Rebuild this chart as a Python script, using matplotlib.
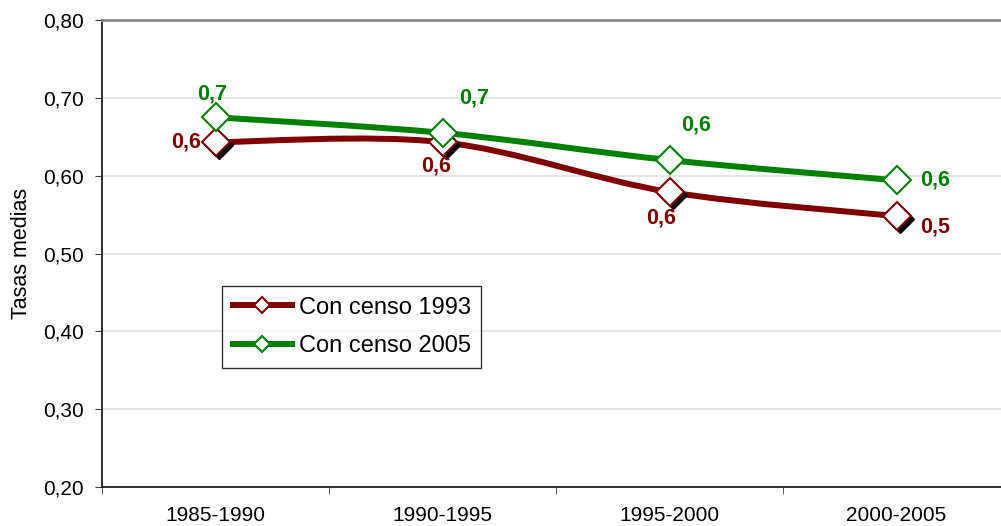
import matplotlib
matplotlib.use("Agg")
import matplotlib.pyplot as plt
from matplotlib.path import Path
from matplotlib.patches import PathPatch
from matplotlib.lines import Line2D
from matplotlib.transforms import offset_copy

plt.rcParams['font.family'] = ['Liberation Sans', 'DejaVu Sans']

periodos = ['1985-1990', '1990-1995', '1995-2000', '2000-2005']
censo_1993 = [0.643, 0.643, 0.579, 0.548]
censo_2005 = [0.675, 0.655, 0.620, 0.594]

rojo = '#800000'
verde = '#008000'


def curva(ax, ys, color):
    # smoothed line like excel (catmull-rom as bezier)
    xs = list(range(len(ys)))
    pts = list(zip(xs, ys))
    verts = [pts[0]]
    codes = [Path.MOVETO]
    n = len(pts)
    for i in range(n - 1):
        p0 = pts[max(i - 1, 0)]
        p1 = pts[i]
        p2 = pts[i + 1]
        p3 = pts[min(i + 2, n - 1)]
        c1 = (p1[0] + (p2[0] - p0[0]) / 6, p1[1] + (p2[1] - p0[1]) / 6)
        c2 = (p2[0] - (p3[0] - p1[0]) / 6, p2[1] - (p3[1] - p1[1]) / 6)
        verts += [c1, c2, p2]
        codes += [Path.CURVE4] * 3
    ax.add_patch(PathPatch(Path(verts, codes), fill=False, edgecolor=color,
                           lw=4.3, capstyle='round', joinstyle='round', zorder=3))


fig = plt.figure(figsize=(10.01, 5.26), dpi=100)
ax = fig.add_axes([102 / 1001, 39 / 526, 908 / 1001, 467 / 526])

x = list(range(len(periodos)))
curva(ax, censo_1993, rojo)
curva(ax, censo_2005, verde)

# sombra de los marcadores rojos
sombra = offset_copy(ax.transData, fig=fig, x=3, y=-3, units='dots')
ax.plot(x, censo_1993, ls='none', marker='D', ms=14, mfc='black', mec='black',
        transform=sombra, zorder=4)
ax.plot(x, censo_1993, ls='none', marker='D', ms=14, mfc='white', mec=rojo,
        mew=1.5, zorder=5)
ax.plot(x, censo_2005, ls='none', marker='D', ms=14, mfc='white', mec=verde,
        mew=1.5, zorder=6)


def etiqueta(v):
    return f"{v:.1f}".replace('.', ',')


off_rojo = [(-14, 0, 'right', 'center'), (-6, -24, 'center', 'center'),
            (-8, -26, 'center', 'center'), (24, -11, 'left', 'center')]
off_verde = [(-3, 23, 'center', 'center'), (32, 35, 'center', 'center'),
             (27, 35, 'center', 'center'), (24, 0, 'left', 'center')]
for i in x:
    dx, dy, ha, va = off_rojo[i]
    ax.annotate(etiqueta(censo_1993[i]), (i, censo_1993[i]), xytext=(dx, dy),
                textcoords='offset pixels', ha=ha, va=va, color=rojo,
                fontsize=15.5, fontweight='bold', zorder=7)
    dx, dy, ha, va = off_verde[i]
    ax.annotate(etiqueta(censo_2005[i]), (i, censo_2005[i]), xytext=(dx, dy),
                textcoords='offset pixels', ha=ha, va=va, color=verde,
                fontsize=15.5, fontweight='bold', zorder=7)

ax.set_xlim(-0.5, 3.5)
ax.set_ylim(0.2, 0.8)
yticks = [0.2, 0.3, 0.4, 0.5, 0.6, 0.7, 0.8]
ax.set_yticks(yticks)
ax.set_yticklabels([f"{t:.2f}".replace('.', ',') for t in yticks])
ax.set_xticks(x)
ax.set_xticklabels(periodos)
ax.set_xticks([-0.5, 0.5, 1.5, 2.5, 3.5], minor=True)
ax.tick_params(axis='x', which='major', length=0, pad=14, labelsize=15)
ax.tick_params(axis='x', which='minor', length=5, direction='out', color='#404040')
ax.tick_params(axis='y', length=5, direction='out', pad=8, labelsize=15, color='#404040')

ax.yaxis.grid(True, color='#e0e0e0', lw=1.2)
ax.set_axisbelow(True)
for s in ['left', 'bottom']:
    ax.spines[s].set_color('#202020')
    ax.spines[s].set_linewidth(1.3)
ax.spines['top'].set_color('#888888')
ax.spines['top'].set_linewidth(2)
ax.spines['right'].set_visible(False)

ax.set_ylabel('Tasas medias', fontsize=15.5, labelpad=8)

handles = [
    Line2D([], [], color=rojo, lw=4.3, marker='D', ms=8, mfc='white', mec=rojo, mew=1.5),
    Line2D([], [], color=verde, lw=4.3, marker='D', ms=8, mfc='white', mec=verde, mew=1.5),
]
leg = fig.legend(handles, ['Con censo 1993', 'Con censo 2005'],
                 loc='upper left', bbox_to_anchor=(222 / 1001, 1 - 286 / 526),
                 fontsize=17, frameon=True, fancybox=False, handlelength=2.5,
                 handletextpad=0.3, borderpad=0.45, labelspacing=0.7,
                 borderaxespad=0)
leg.get_frame().set_edgecolor('black')
leg.get_frame().set_linewidth(1)

fig.savefig('out.png', dpi=100)
